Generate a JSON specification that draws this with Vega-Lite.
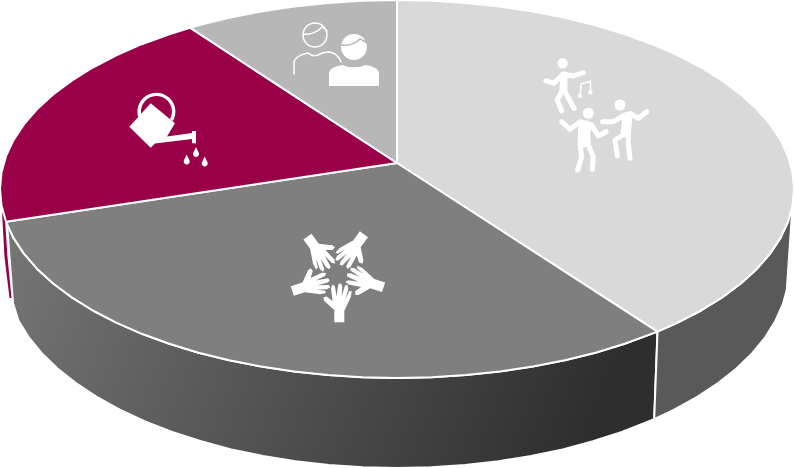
{"$schema":"https://vega.github.io/schema/vega-lite/v6.json","width":794,"height":468,"padding":0,"autosize":"none","background":"white","config":{"view":{"stroke":null}},
"resolve":{"scale":{"shape":"independent","color":"independent"}},
"datasets":{
"wedges":[
{"part":"front","seq":0,"x":657.5,"y":331.6},{"part":"front","seq":1,"x":624.7,"y":343.8},{"part":"front","seq":2,"x":595.5,"y":352.7},{"part":"front","seq":3,"x":564.8,"y":360.3},{"part":"front","seq":4,"x":532.8,"y":366.6},{"part":"front","seq":5,"x":499.7,"y":371.6},{"part":"front","seq":6,"x":465.9,"y":375.1},{"part":"front","seq":7,"x":431.6,"y":377.3},{"part":"front","seq":8,"x":397,"y":378},{"part":"front","seq":9,"x":362.4,"y":377.3},{"part":"front","seq":10,"x":328.1,"y":375.1},{"part":"front","seq":11,"x":294.3,"y":371.6},{"part":"front","seq":12,"x":261.2,"y":366.6},{"part":"front","seq":13,"x":229.2,"y":360.3},{"part":"front","seq":14,"x":198.5,"y":352.7},{"part":"front","seq":15,"x":169.3,"y":343.8},{"part":"front","seq":16,"x":141.8,"y":333.8},{"part":"front","seq":17,"x":116.3,"y":322.6},{"part":"front","seq":18,"x":92.9,"y":310.5},{"part":"front","seq":19,"x":71.8,"y":297.4},{"part":"front","seq":20,"x":53.2,"y":283.5},{"part":"front","seq":21,"x":37.2,"y":268.9},{"part":"front","seq":22,"x":23.9,"y":253.6},{"part":"front","seq":23,"x":13.5,"y":237.9},{"part":"front","seq":24,"x":7,"y":223},{"part":"front","seq":25,"x":13,"y":303},{"part":"front","seq":26,"x":18.4,"y":320.5},{"part":"front","seq":27,"x":28.6,"y":337.1},{"part":"front","seq":28,"x":41.7,"y":353.1},{"part":"front","seq":29,"x":57.5,"y":368.5},{"part":"front","seq":30,"x":75.9,"y":383.1},{"part":"front","seq":31,"x":96.7,"y":396.9},{"part":"front","seq":32,"x":119.8,"y":409.7},{"part":"front","seq":33,"x":145,"y":421.4},{"part":"front","seq":34,"x":172.1,"y":432},{"part":"front","seq":35,"x":201,"y":441.3},{"part":"front","seq":36,"x":231.3,"y":449.4},{"part":"front","seq":37,"x":262.9,"y":456},{"part":"front","seq":38,"x":295.5,"y":461.2},{"part":"front","seq":39,"x":328.9,"y":465},{"part":"front","seq":40,"x":362.8,"y":467.2},{"part":"front","seq":41,"x":397,"y":468},{"part":"front","seq":42,"x":431.2,"y":467.2},{"part":"front","seq":43,"x":465.1,"y":465},{"part":"front","seq":44,"x":498.5,"y":461.2},{"part":"front","seq":45,"x":531.1,"y":456},{"part":"front","seq":46,"x":562.7,"y":449.4},{"part":"front","seq":47,"x":593,"y":441.3},{"part":"front","seq":48,"x":621.9,"y":432},{"part":"front","seq":49,"x":654.2,"y":419.2},{"part":"front","seq":50,"x":657.5,"y":331.6},
{"part":"rightside","seq":0,"x":657.5,"y":331.6},{"part":"rightside","seq":1,"x":677.7,"y":322.6},{"part":"rightside","seq":2,"x":701.1,"y":310.5},{"part":"rightside","seq":3,"x":722.2,"y":297.4},{"part":"rightside","seq":4,"x":740.8,"y":283.5},{"part":"rightside","seq":5,"x":756.8,"y":268.9},{"part":"rightside","seq":6,"x":770.1,"y":253.6},{"part":"rightside","seq":7,"x":780.5,"y":237.9},{"part":"rightside","seq":8,"x":788,"y":221.8},{"part":"rightside","seq":9,"x":792.5,"y":205.5},{"part":"rightside","seq":10,"x":786.8,"y":289.8},{"part":"rightside","seq":11,"x":783.1,"y":303.5},{"part":"rightside","seq":12,"x":775.6,"y":320.5},{"part":"rightside","seq":13,"x":765.4,"y":337.1},{"part":"rightside","seq":14,"x":752.3,"y":353.1},{"part":"rightside","seq":15,"x":736.5,"y":368.5},{"part":"rightside","seq":16,"x":718.1,"y":383.1},{"part":"rightside","seq":17,"x":697.3,"y":396.9},{"part":"rightside","seq":18,"x":674.2,"y":409.7},{"part":"rightside","seq":19,"x":654.2,"y":419.2},{"part":"rightside","seq":20,"x":657.5,"y":331.6},
{"part":"redside","seq":0,"x":2,"y":212},{"part":"redside","seq":1,"x":5,"y":219},{"part":"redside","seq":2,"x":7.5,"y":257},{"part":"redside","seq":3,"x":11.5,"y":298},{"part":"redside","seq":4,"x":9.5,"y":298},{"part":"redside","seq":5,"x":4.5,"y":257},{"part":"redside","seq":6,"x":2,"y":212},
{"part":"dance","seq":0,"x":397,"y":163},{"part":"dance","seq":1,"x":397,"y":0},{"part":"dance","seq":2,"x":431.6,"y":0.7},{"part":"dance","seq":3,"x":465.9,"y":2.9},{"part":"dance","seq":4,"x":499.7,"y":6.4},{"part":"dance","seq":5,"x":532.8,"y":11.4},{"part":"dance","seq":6,"x":564.8,"y":17.7},{"part":"dance","seq":7,"x":595.5,"y":25.3},{"part":"dance","seq":8,"x":624.7,"y":34.2},{"part":"dance","seq":9,"x":652.2,"y":44.2},{"part":"dance","seq":10,"x":677.7,"y":55.4},{"part":"dance","seq":11,"x":701.1,"y":67.5},{"part":"dance","seq":12,"x":722.2,"y":80.6},{"part":"dance","seq":13,"x":740.8,"y":94.5},{"part":"dance","seq":14,"x":756.8,"y":109.1},{"part":"dance","seq":15,"x":770.1,"y":124.4},{"part":"dance","seq":16,"x":780.5,"y":140.1},{"part":"dance","seq":17,"x":788,"y":156.2},{"part":"dance","seq":18,"x":792.5,"y":172.5},{"part":"dance","seq":19,"x":794,"y":189},{"part":"dance","seq":20,"x":792.5,"y":205.5},{"part":"dance","seq":21,"x":788,"y":221.8},{"part":"dance","seq":22,"x":780.5,"y":237.9},{"part":"dance","seq":23,"x":770.1,"y":253.6},{"part":"dance","seq":24,"x":756.8,"y":268.9},{"part":"dance","seq":25,"x":740.8,"y":283.5},{"part":"dance","seq":26,"x":722.2,"y":297.4},{"part":"dance","seq":27,"x":701.1,"y":310.5},{"part":"dance","seq":28,"x":677.7,"y":322.6},{"part":"dance","seq":29,"x":657.5,"y":331.6},{"part":"dance","seq":30,"x":397,"y":163},
{"part":"hands","seq":0,"x":397,"y":163},{"part":"hands","seq":1,"x":657.5,"y":331.6},{"part":"hands","seq":2,"x":624.7,"y":343.8},{"part":"hands","seq":3,"x":595.5,"y":352.7},{"part":"hands","seq":4,"x":564.8,"y":360.3},{"part":"hands","seq":5,"x":532.8,"y":366.6},{"part":"hands","seq":6,"x":499.7,"y":371.6},{"part":"hands","seq":7,"x":465.9,"y":375.1},{"part":"hands","seq":8,"x":431.6,"y":377.3},{"part":"hands","seq":9,"x":397,"y":378},{"part":"hands","seq":10,"x":362.4,"y":377.3},{"part":"hands","seq":11,"x":328.1,"y":375.1},{"part":"hands","seq":12,"x":294.3,"y":371.6},{"part":"hands","seq":13,"x":261.2,"y":366.6},{"part":"hands","seq":14,"x":229.2,"y":360.3},{"part":"hands","seq":15,"x":198.5,"y":352.7},{"part":"hands","seq":16,"x":169.3,"y":343.8},{"part":"hands","seq":17,"x":141.8,"y":333.8},{"part":"hands","seq":18,"x":116.3,"y":322.6},{"part":"hands","seq":19,"x":92.9,"y":310.5},{"part":"hands","seq":20,"x":71.8,"y":297.4},{"part":"hands","seq":21,"x":53.2,"y":283.5},{"part":"hands","seq":22,"x":37.2,"y":268.9},{"part":"hands","seq":23,"x":23.9,"y":253.6},{"part":"hands","seq":24,"x":13.5,"y":237.9},{"part":"hands","seq":25,"x":6,"y":221.8},{"part":"hands","seq":26,"x":397,"y":163},
{"part":"garden","seq":0,"x":397,"y":163},{"part":"garden","seq":1,"x":6,"y":221.8},{"part":"garden","seq":2,"x":1.5,"y":205.5},{"part":"garden","seq":3,"x":0,"y":189},{"part":"garden","seq":4,"x":1.5,"y":172.5},{"part":"garden","seq":5,"x":6,"y":156.2},{"part":"garden","seq":6,"x":13.5,"y":140.1},{"part":"garden","seq":7,"x":23.9,"y":124.4},{"part":"garden","seq":8,"x":37.2,"y":109.1},{"part":"garden","seq":9,"x":53.2,"y":94.5},{"part":"garden","seq":10,"x":71.8,"y":80.6},{"part":"garden","seq":11,"x":92.9,"y":67.5},{"part":"garden","seq":12,"x":116.3,"y":55.4},{"part":"garden","seq":13,"x":141.8,"y":44.2},{"part":"garden","seq":14,"x":169.3,"y":34.2},{"part":"garden","seq":15,"x":190,"y":27.7},{"part":"garden","seq":16,"x":397,"y":163},
{"part":"people","seq":0,"x":397,"y":163},{"part":"people","seq":1,"x":190,"y":27.7},{"part":"people","seq":2,"x":198.5,"y":25.3},{"part":"people","seq":3,"x":229.2,"y":17.7},{"part":"people","seq":4,"x":261.2,"y":11.4},{"part":"people","seq":5,"x":294.3,"y":6.4},{"part":"people","seq":6,"x":328.1,"y":2.9},{"part":"people","seq":7,"x":362.4,"y":0.7},{"part":"people","seq":8,"x":397,"y":0},{"part":"people","seq":9,"x":397,"y":163}
],
"icons":[
{"icon":"hand","x":337.3,"y":274.3,"angle":0},{"icon":"hand","x":337.3,"y":274.3,"angle":72},{"icon":"hand","x":337.3,"y":274.3,"angle":144},{"icon":"hand","x":337.3,"y":274.3,"angle":216},{"icon":"hand","x":337.3,"y":274.3,"angle":288},
{"icon":"can","x":170,"y":135,"angle":0},{"icon":"solidperson","x":354,"y":60,"angle":0},
{"icon":"dancers","x":595,"y":115,"angle":0},{"icon":"note","x":595,"y":115,"angle":0},{"icon":"outlineperson","x":315,"y":50,"angle":0},{"icon":"hair","x":354,"y":60,"angle":0}
]},
"layer":[
{"data":{"name":"wedges"},"transform":[{"filter":"datum.part === 'front'"}],
"mark":{"type":"line","filled":true,"stroke":"white","strokeWidth":2,"strokeJoin":"round","fill":{"gradient":"linear","x1":0,"y1":0,"x2":1,"y2":0.15,"stops":[{"offset":0,"color":"#767676"},{"offset":0.5,"color":"#525252"},{"offset":1,"color":"#2e2e2e"}]}},
"encoding":{"x":{"field":"x","type":"quantitative","scale":{"domain":[0,794]},"axis":null},"y":{"field":"y","type":"quantitative","scale":{"domain":[468,0]},"axis":null},"order":{"field":"seq"}}},
{"data":{"name":"wedges"},"transform":[{"filter":"datum.part === 'redside'"}],
"mark":{"type":"line","filled":true,"fill":"#990048","strokeWidth":0},
"encoding":{"x":{"field":"x","type":"quantitative","scale":{"domain":[0,794]},"axis":null},"y":{"field":"y","type":"quantitative","scale":{"domain":[468,0]},"axis":null},"order":{"field":"seq"}}},
{"data":{"name":"wedges"},"transform":[{"filter":"datum.part !== 'front' && datum.part !== 'redside'"}],
"mark":{"type":"line","filled":true,"stroke":"white","strokeWidth":2,"strokeJoin":"round"},
"encoding":{"x":{"field":"x","type":"quantitative","scale":{"domain":[0,794]},"axis":null},"y":{"field":"y","type":"quantitative","scale":{"domain":[468,0]},"axis":null},"order":{"field":"seq"},
"color":{"field":"part","type":"nominal","legend":null,"scale":{"domain":["rightside","dance","hands","garden","people"],"range":["#595959","#d9d9d9","#7f7f7f","#990048","#b7b7b7"]}}}},
{"data":{"name":"icons"},"transform":[{"filter":{"field":"icon","oneOf":["hand","can","solidperson"]}}],
"mark":{"type":"point","filled":true,"opacity":1,"color":"white"},
"encoding":{"x":{"field":"x","type":"quantitative","scale":{"domain":[0,794]},"axis":null},"y":{"field":"y","type":"quantitative","scale":{"domain":[468,0]},"axis":null},"size":{"value":4},"angle":{"field":"angle","type":"quantitative","scale":null},
"shape":{"field":"icon","type":"nominal","legend":null,"scale":{"domain":["hand","can","solidperson"],"range":[
"M-3,48L-3,35.6L-13,26.6L-14,23.3L-10.7,22.3L-4.7,26.6L-6.3,14L-4.7,10L-2.3,12.3L-0.7,22.3L1,10L3.7,9L5,12.3L4.3,22.3L7.7,11.3L10.3,10.6L11,14.6L8.3,24.6L12,16.6L14.3,16.6L13.7,22.3L7,36.6L7,48Z",
"M-40.7,-8.3L-19.3,-31.7L5,-11.7L-3,1.5L22,-2V-4H26V8.3H22V4L-15,8.5L-19.3,12.7ZM-31.5,-17A19,19 0 1,1 3,-14L0,-16A15.5,15.5 0 1,0 -28,-18ZM26,12C27,15 29,17 29,19A3,3 0 1,1 23,19C23,17 25,15 26,12ZM16.7,19.5C17.7,22.5 19.7,24.5 19.7,26.5A3,3 0 1,1 13.7,26.5C13.7,24.5 15.7,22.5 16.7,19.5ZM34.7,21.5C35.7,24.5 37.7,26.5 37.7,28.5A3,3 0 1,1 31.7,28.5C31.7,26.5 33.7,24.5 34.7,21.5Z",
"M-13,-13A13,13 0 1,1 13,-13A13,13 0 1,1 -13,-13ZM-25,26V14C-25,8 -18,6 -11,5C-6,8 6,8 11,5C18,6 25,8 25,14V26Z"]}}}},
{"data":{"name":"icons"},"transform":[{"filter":"datum.icon === 'dancers'"}],
"mark":{"type":"point","filled":false,"opacity":1,"color":"white","strokeWidth":5,"strokeCap":"round","strokeJoin":"round","shape":"M-35,-51.7a2.7,2.7 0 1,0 5.4,0a2.7,2.7 0 1,0 -5.4,0M-49,-34.3L-41,-31.7L-31.7,-41L-21.7,-39L-11.7,-42.3M-31.7,-41L-33.3,-23.3L-37.7,-15L-33.3,-4.3M-30,-38L-30,-23.3L-21,-6.7M-9.7,-1.7a3,3 0 1,0 6,0a3,3 0 1,0 -6,0M-33.3,6.7L-25,14.3L-15,6.7L-3.3,10L3.3,21L11,16.7M-14,8L-15,30L-13.3,41.7L-17.3,55M-8,8L-6.7,30L-1.7,41.7L-2.7,54.3M-5,10L-11,30M-11,9L-11,30M22,-10a3,3 0 1,0 6,0a3,3 0 1,0 -6,0M7.7,6.7L18.3,6.7L30,0L35,-1.7L43.3,3.3L51.7,-3.3M30,0L28,20L20,25L22.3,41M35,0L33.3,20L33.3,28.3L35,43.3M32,0L31,20"},
"encoding":{"x":{"field":"x","type":"quantitative","scale":{"domain":[0,794]},"axis":null},"y":{"field":"y","type":"quantitative","scale":{"domain":[468,0]},"axis":null},"size":{"value":4}}},
{"data":{"name":"icons"},"transform":[{"filter":{"field":"icon","oneOf":["note","outlineperson"]}}],
"mark":{"type":"point","filled":false,"opacity":1,"color":"white","strokeWidth":1.5,"strokeCap":"round"},
"encoding":{"x":{"field":"x","type":"quantitative","scale":{"domain":[0,794]},"axis":null},"y":{"field":"y","type":"quantitative","scale":{"domain":[468,0]},"axis":null},"size":{"value":4},
"shape":{"field":"icon","type":"nominal","legend":null,"scale":{"domain":["note","outlineperson"],"range":[
"M-14.8,-19.5L-14,-31L-4.5,-34L-4.5,-23M-16.5,-19a1.5,1.5 0 1,0 3,0a1.5,1.5 0 1,0 -3,0M-6.2,-22.7a1.5,1.5 0 1,0 3,0a1.5,1.5 0 1,0 -3,0",
"M-12,-15A12,12 0 1,1 12,-15A12,12 0 1,1 -12,-15ZM-12,-16C-6,-15 2,-17 7,-23C9,-22 11,-21 12,-19M-21,24V13C-21,7 -12,4 -7,3C-4,6 0,6 3,5C8,2 12,2 15,2C20,3 24,7 26,12"]}}}},
{"data":{"name":"icons"},"transform":[{"filter":"datum.icon === 'hair'"}],
"mark":{"type":"point","filled":false,"opacity":1,"color":"#b7b7b7","strokeWidth":1.5,"shape":"M-13,-15C-6,-14 1,-16 6,-21C8,-20 11,-19 13,-17"},
"encoding":{"x":{"field":"x","type":"quantitative","scale":{"domain":[0,794]},"axis":null},"y":{"field":"y","type":"quantitative","scale":{"domain":[468,0]},"axis":null},"size":{"value":4}}}
]}
